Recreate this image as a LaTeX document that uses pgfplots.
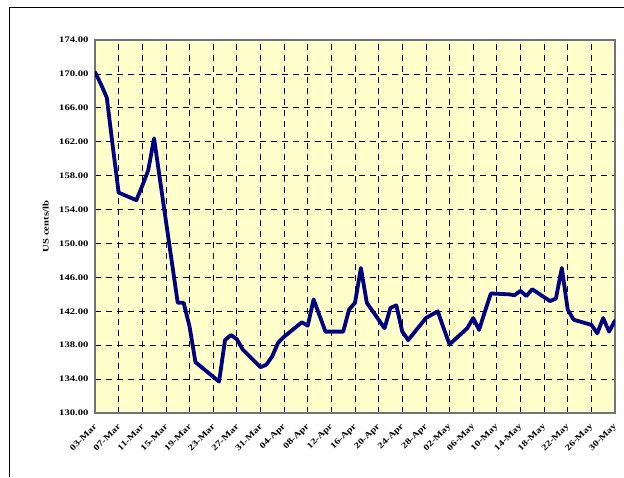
\documentclass[border=0pt]{standalone}
\usepackage{fontspec}
\setmainfont{Liberation Serif}[FakeStretch=1.25]
\usepackage{pgfplots}
\pgfplotsset{compat=1.18}
\definecolor{plotbg}{HTML}{FFFFCC}
\definecolor{navyline}{HTML}{000080}
\begin{document}
\begin{tikzpicture}[x=1pt,y=1pt]
\useasboundingbox (0,0) rectangle (624,477);
\draw[black, line width=1pt] (9,0) -- (9,469.5) -- (624,469.5);
\begin{axis}[
  at={(95pt,64pt)}, anchor=south west,
  scale only axis, width=520pt, height=373pt,
  xmin=0, xmax=88, ymin=130, ymax=174,
  xtick={0,4,...,88},
  xticklabels={03-Mar,07-Mar,11-Mar,15-Mar,19-Mar,23-Mar,27-Mar,31-Mar,04-Apr,08-Apr,12-Apr,16-Apr,20-Apr,24-Apr,28-Apr,02-May,06-May,10-May,14-May,18-May,22-May,26-May,30-May},
  ytick={130,134,...,174},
  /pgf/number format/fixed,
  /pgf/number format/fixed zerofill,
  /pgf/number format/precision=2,
  /pgf/number format/assume math mode=true,
  tick label style={font=\fontsize{8.5}{10}\selectfont\bfseries, text=black},
  xticklabel style={rotate=45, anchor=east, xshift=-5pt, yshift=-9pt},
  yticklabel style={xshift=-3pt},
  major tick length=0pt,
  grid=major,
  major grid style={black, line width=0.8pt, dash pattern=on 6pt off 5pt},
  axis background/.style={fill=plotbg},
  axis line style={draw=gray!90!black, line width=1.2pt},
  ylabel={US cents/lb},
  every axis y label/.style={at={(axis description cs:-0.095,0.5)}, rotate=90, anchor=center, font=\fontsize{8.5}{10}\selectfont\bfseries},
]
\addplot[navyline, line width=3.8pt, line join=round, line cap=round] table[x=day, y=val] {
day val
0 170.2
1 168.8
2 167.2
3 161.5
4 156.0
7 155.1
8 156.8
9 158.6
10 162.4
11 157.5
14 143.0
15 143.0
16 140.2
17 136.0
21 133.7
22 138.6
23 139.2
24 138.7
25 137.5
28 135.4
29 135.7
30 136.7
31 138.3
32 139.0
35 140.7
36 140.3
37 143.4
38 141.5
39 139.6
42 139.6
43 142.2
44 143.0
45 147.1
46 143.0
49 140.0
50 142.4
51 142.7
52 139.6
53 138.6
56 141.2
57 141.6
58 142.0
59 140.0
60 138.1
63 140.0
64 141.2
65 139.8
66 142.0
67 144.1
70 144.0
71 143.9
72 144.4
73 143.8
74 144.6
77 143.2
78 143.5
79 147.1
80 142.2
81 141.0
84 140.4
85 139.4
86 141.2
87 139.6
88 140.9
};
\end{axis}
\end{tikzpicture}
\end{document}
